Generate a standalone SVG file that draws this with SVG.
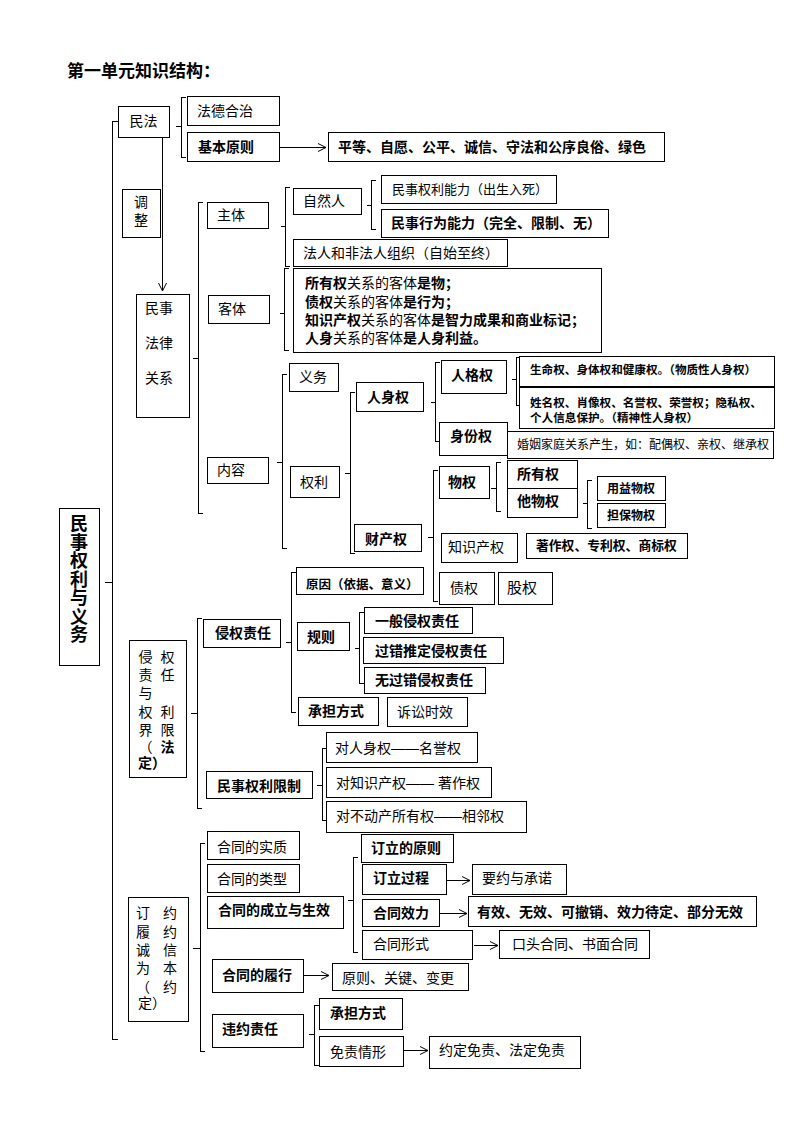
<svg xmlns="http://www.w3.org/2000/svg" width="794" height="1123" viewBox="0 0 794 1123">
<style>
rect{fill:#fff;stroke:#000;stroke-width:1;shape-rendering:crispEdges}
text{font-family:"Liberation Sans","Noto Sans CJK SC",sans-serif;font-size:14px;fill:#000}
.b{font-weight:bold}
.s12{font-size:12px}
.m{text-anchor:middle}
#connectors path{fill:none;stroke:#000;stroke-width:1}
#connectors .br{shape-rendering:crispEdges}
</style>
<defs>
<marker id="ah" markerUnits="userSpaceOnUse" markerWidth="10" markerHeight="10" refX="9" refY="5" orient="auto">
<path d="M1,1 L9,5 L1,9" fill="none" stroke="#000" stroke-width="1"/>
</marker>
</defs>
<rect x="0" y="0" width="794" height="1123" style="stroke:none"/>
<text x="67" y="77" class="b" style="font-size:17px">第一单元知识结构：</text>

<g id="connectors">
<path class="br" d="M118,121 H112 V1039 H118 M112,582 H105"/>
<path class="br" d="M186,97 H181 V157 H186 M181,126 H176"/>
<path class="br" d="M203,202 H198 V513 H203 M198,358 H193"/>
<path class="br" d="M290,187 H285 V266 H290 M285,226 H281"/>
<path class="br" d="M376,180 H371 V229 H376 M371,205 H367"/>
<path class="br" d="M289,268 H284 V350 H289 M284,313 H280"/>
<path class="br" d="M287,374 H282 V548 H287 M282,462 H277"/>
<path class="br" d="M355,392 H350 V553 H355 M350,473 H345"/>
<path class="br" d="M440,362 H435 V441 H440 M435,402 H431"/>
<path class="br" d="M521,357 H516 V405 H521 M516,379 H512"/>
<path class="br" d="M438,470 H433 V601 H438 M433,537 H428"/>
<path class="br" d="M501,462 H496 V511 H501 M496,488 H491"/>
<path class="br" d="M592,480 H587 V528 H592 M587,503 H583"/>
<path class="br" d="M202,618 H197 V808 H202 M197,713 H191"/>
<path class="br" d="M296,572 H291 V712 H296 M291,642 H286"/>
<path class="br" d="M364,612 H359 V683 H364 M359,648 H355"/>
<path class="br" d="M327,748 H322 V820 H327 M322,785 H317"/>
<path class="br" d="M205,843 H200 V1051 H205 M200,948 H193"/>
<path class="br" d="M358,857 H353 V952 H358 M353,900 H348"/>
<path class="br" d="M319,1005 H314 V1065 H319 M314,1034 H309"/>
<path d="M279,147.5 H326" marker-end="url(#ah)"/>
<path d="M162.5,137 V291" marker-end="url(#ah)"/>
<path d="M303,975.5 H329" marker-end="url(#ah)"/>
<path d="M446,880.5 H470" marker-end="url(#ah)"/>
<path d="M440,913.5 H467" marker-end="url(#ah)"/>
<path d="M474,945.5 H498" marker-end="url(#ah)"/>
<path d="M404,1050.5 H428" marker-end="url(#ah)"/>
</g>

<g id="n_root"><rect x="59" y="508" width="40" height="157"/>
<text class="b m" style="font-size:18px" x="79" y="530">民</text>
<text class="b m" style="font-size:18px" x="79" y="548.5">事</text>
<text class="b m" style="font-size:18px" x="79" y="567">权</text>
<text class="b m" style="font-size:18px" x="79" y="585.5">利</text>
<text class="b m" style="font-size:18px" x="79" y="604">与</text>
<text class="b m" style="font-size:18px" x="79" y="622.5">义</text>
<text class="b m" style="font-size:18px" x="79" y="641">务</text></g>

<g id="n_minfa"><rect x="118" y="106" width="51" height="31"/><text class="m" x="143.5" y="126">民法</text></g>
<g id="n_fade"><rect x="187" y="96" width="92" height="29"/><text x="197" y="115.5">法德合治</text></g>
<g id="n_jiben"><rect x="187" y="132" width="92" height="29"/><text class="b" x="198" y="151.5">基本原则</text></g>
<g id="n_pingdeng"><rect x="328" y="132" width="336" height="29"/><text class="b" x="338" y="151.5">平等、自愿、公平、诚信、守法和公序良俗、绿色</text></g>
<g id="n_tiaozheng"><rect x="122" y="189" width="38" height="48"/><text class="m" x="141" y="207">调</text><text class="m" x="141" y="225">整</text></g>
<g id="n_guanxi"><rect x="136" y="294" width="53" height="123"/><text x="145" y="313">民事</text><text x="145" y="348">法律</text><text x="145" y="383">关系</text></g>
<g id="n_zhuti"><rect x="207" y="202" width="61" height="26"/><text x="217" y="220">主体</text></g>
<g id="n_keti"><rect x="208" y="295" width="61" height="28"/><text x="218" y="314">客体</text></g>
<g id="n_neirong"><rect x="207" y="457" width="61" height="26"/><text x="217" y="475">内容</text></g>
<g id="n_ziranren"><rect x="293" y="188" width="68" height="26"/><text x="303" y="206">自然人</text></g>
<g id="n_quanlinengli"><rect x="381" y="175" width="175" height="28"/><text x="392" y="193.5" style="font-size:13px">民事权利能力（出生入死）</text></g>
<g id="n_xingweinengli"><rect x="381" y="209" width="227" height="28"/><text class="b" x="391" y="228">民事行为能力（完全、限制、无）</text></g>
<g id="n_faren"><rect x="293" y="239" width="214" height="27"/><text x="303" y="257.5">法人和非法人组织（自始至终）</text></g>
<g id="n_ketitext"><rect x="293" y="268" width="308" height="84"/>
<text x="305" y="288"><tspan class="b">所有权</tspan>关系的客体<tspan class="b">是物；</tspan></text>
<text x="305" y="307"><tspan class="b">债权</tspan>关系的客体<tspan class="b">是行为；</tspan></text>
<text x="305" y="325"><tspan class="b">知识产权</tspan>关系的客体<tspan class="b">是智力成果和商业标记；</tspan></text>
<text x="305" y="343"><tspan class="b">人身</tspan>关系的客体<tspan class="b">是人身利益。</tspan></text></g>
<g id="n_yiwu"><rect x="289" y="363" width="49" height="28"/><text x="299" y="382">义务</text></g>
<g id="n_quanli"><rect x="290" y="466" width="49" height="31"/><text x="300" y="487">权利</text></g>
<g id="n_renshen"><rect x="356" y="382" width="67" height="29"/><text class="b" x="367" y="402">人身权</text></g>
<g id="n_caichan"><rect x="354" y="524" width="67" height="27"/><text class="b" x="365" y="544">财产权</text></g>
<g id="n_renge"><rect x="441" y="360" width="65" height="33"/><text class="b" x="451" y="380">人格权</text></g>
<g id="n_shenfen"><rect x="439" y="422" width="68" height="33"/><text class="b" x="450" y="441">身份权</text></g>
<g id="n_shengming"><rect x="519" y="356" width="255" height="30"/><text class="b" x="530" y="373.5" style="font-size:11.6px">生命权、身体权和健康权。（物质性人身权）</text></g>
<g id="n_xingming"><rect x="519" y="387" width="255" height="41"/><text class="b" x="530" y="406.5" style="font-size:11.6px">姓名权、肖像权、名誉权、荣誉权；隐私权、</text><text class="b" x="530" y="421.5" style="font-size:11.6px">个人信息保护。（精神性人身权）</text></g>
<g id="n_hunyin"><rect x="507" y="431" width="266" height="27"/><text x="517" y="449" style="font-size:12px">婚姻家庭关系产生，如：配偶权、亲权、继承权</text></g>
<g id="n_wuquan"><rect x="439" y="466" width="50" height="32"/><text class="b" x="448" y="487">物权</text></g>
<g id="n_suoyou"><rect x="507" y="460" width="70" height="28"/><text class="b" x="517" y="479">所有权</text></g>
<g id="n_tawu"><rect x="507" y="488" width="70" height="29"/><text class="b" x="517" y="506">他物权</text></g>
<g id="n_yongyi"><rect x="597" y="476" width="68" height="24"/><text class="b s12" x="607" y="492.5">用益物权</text></g>
<g id="n_danbao"><rect x="597" y="503" width="68" height="24"/><text class="b s12" x="607" y="519.5">担保物权</text></g>
<g id="n_zhishi"><rect x="441" y="533" width="76" height="29"/><text x="448" y="552">知识产权</text></g>
<g id="n_zhuzuo"><rect x="526" y="533" width="161" height="25"/><text class="b" x="536" y="550" style="font-size:12.8px">著作权、专利权、商标权</text></g>
<g id="n_zhaiquan"><rect x="439" y="572" width="55" height="32"/><text x="450" y="593">债权</text></g>
<g id="n_guquan"><rect x="498" y="572" width="54" height="32"/><text x="507" y="593" style="font-size:15px">股权</text></g>

<g id="n_qinquanjie"><rect x="129" y="640" width="57" height="137"/>
<text class="m" x="145.5" y="662">侵</text><text class="m" x="167.5" y="662">权</text>
<text class="m" x="145.5" y="680">责</text><text class="m" x="167.5" y="680">任</text>
<text class="m" x="145.5" y="698">与</text>
<text class="m" x="145.5" y="717">权</text><text class="m" x="167.5" y="717">利</text>
<text class="m" x="145.5" y="735">界</text><text class="m" x="167.5" y="735">限</text>
<text class="m" x="145.5" y="752">（</text><text class="m b" x="167.5" y="752">法</text>
<text class="b" x="138" y="768">定）</text></g>
<g id="n_yuanyin"><rect x="296" y="567" width="127" height="27"/><text class="b" x="306" y="589" style="font-size:12.5px">原因（依据、意义）</text></g>
<g id="n_qinquan"><rect x="203" y="619" width="77" height="28"/><text class="b" x="215" y="638">侵权责任</text></g>
<g id="n_guize"><rect x="297" y="622" width="52" height="28"/><text class="b" x="307" y="642">规则</text></g>
<g id="n_yiban"><rect x="364" y="607" width="108" height="26"/><text class="b" x="375" y="626">一般侵权责任</text></g>
<g id="n_guocuo"><rect x="363" y="637" width="140" height="26"/><text class="b" x="375" y="656">过错推定侵权责任</text></g>
<g id="n_wuguocuo"><rect x="364" y="667" width="121" height="26"/><text class="b" x="375" y="685">无过错侵权责任</text></g>
<g id="n_chengdan1"><rect x="298" y="697" width="80" height="28"/><text class="b" x="308" y="716">承担方式</text></g>
<g id="n_susong"><rect x="387" y="697" width="80" height="29"/><text x="397" y="717">诉讼时效</text></g>
<g id="n_xianzhi"><rect x="206" y="771" width="106" height="27"/><text class="b" x="217" y="791">民事权利限制</text></g>
<g id="n_duirenshen"><rect x="326" y="732" width="151" height="30"/><text x="335" y="753">对人身权——名誉权</text></g>
<g id="n_duizhishi"><rect x="326" y="767" width="165" height="30"/><text x="336" y="788">对知识产权—— 著作权</text></g>
<g id="n_duibudong"><rect x="326" y="801" width="200" height="31"/><text x="336" y="821">对不动产所有权——相邻权</text></g>

<g id="n_hetong"><rect x="128" y="897" width="60" height="124"/>
<text class="m" x="143" y="918">订</text><text class="m" x="170" y="918">约</text>
<text class="m" x="143" y="937">履</text><text class="m" x="170" y="937">约</text>
<text class="m" x="143" y="955">诚</text><text class="m" x="170" y="955">信</text>
<text class="m" x="143" y="973">为</text><text class="m" x="170" y="973">本</text>
<text class="m" x="143" y="992">（</text><text class="m" x="170" y="992">约</text>
<text x="138" y="1008">定）</text></g>
<g id="n_shizhi"><rect x="207" y="831" width="92" height="28"/><text x="217" y="852">合同的实质</text></g>
<g id="n_leixing"><rect x="207" y="864" width="92" height="28"/><text x="217" y="884">合同的类型</text></g>
<g id="n_chengli"><rect x="207" y="896" width="136" height="32"/><text class="b" x="218" y="915">合同的成立与生效</text></g>
<g id="n_dingliyuanze"><rect x="361" y="834" width="92" height="28"/><text class="b" x="371" y="853">订立的原则</text></g>
<g id="n_dingliguocheng"><rect x="362" y="864" width="84" height="30"/><text class="b" x="373" y="883">订立过程</text></g>
<g id="n_yaoyue"><rect x="472" y="864" width="94" height="30"/><text x="482" y="883">要约与承诺</text></g>
<g id="n_xiaoli"><rect x="362" y="899" width="77" height="27"/><text class="b" x="373" y="918">合同效力</text></g>
<g id="n_youxiao"><rect x="468" y="896" width="288" height="30"/><text class="b" x="477" y="917">有效、无效、可撤销、效力待定、部分无效</text></g>
<g id="n_xingshi"><rect x="362" y="930" width="110" height="29"/><text x="373" y="949">合同形式</text></g>
<g id="n_koutou"><rect x="499" y="930" width="150" height="28"/><text x="512" y="949">口头合同、书面合同</text></g>
<g id="n_lvxing"><rect x="212" y="959" width="91" height="33"/><text class="b" x="222" y="980">合同的履行</text></g>
<g id="n_yuanzeguanjian"><rect x="332" y="963" width="136" height="27"/><text x="342" y="983">原则、关键、变更</text></g>
<g id="n_weiyue"><rect x="212" y="1014" width="91" height="33"/><text class="b" x="222" y="1034">违约责任</text></g>
<g id="n_chengdan2"><rect x="319" y="998" width="83" height="31"/><text class="b" x="330" y="1018">承担方式</text></g>
<g id="n_mianze"><rect x="319" y="1036" width="84" height="30"/><text x="330" y="1057">免责情形</text></g>
<g id="n_yueding"><rect x="429" y="1036" width="151" height="32"/><text x="439" y="1055">约定免责、法定免责</text></g>
</svg>
